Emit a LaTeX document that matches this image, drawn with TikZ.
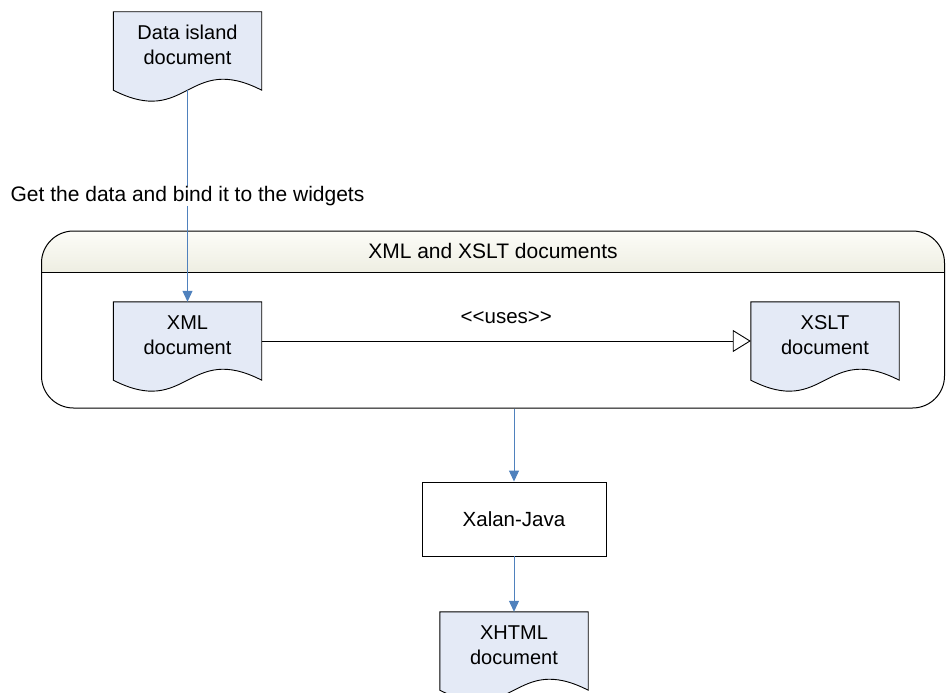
\documentclass[tikz,border=0pt]{standalone}
\usepackage{fontspec}
\setmainfont{Liberation Sans}
\usetikzlibrary{arrows.meta,calc,backgrounds}

\definecolor{docfill}{RGB}{228,234,246}
\definecolor{flowblue}{RGB}{79,129,189}
\definecolor{hdrtop}{RGB}{252,252,248}
\definecolor{hdrbottom}{RGB}{238,238,226}

\tikzset{
  every node/.style={font=\fontsize{20.5}{24}\selectfont},
  bigtext/.style={font=\fontsize{21}{25}\selectfont},
  docnode/.style={minimum width=148pt, minimum height=78pt, inner sep=0pt},
  doctext/.style={align=center, yshift=6pt, inner sep=0pt, font=\fontsize{20}{24.5}\selectfont},
  docshape/.style={fill=docfill, draw=black, line width=0.9pt},
  procbox/.style={draw=black, line width=0.9pt, minimum width=184pt, minimum height=74pt, inner sep=0pt},
  groupbox/.style={draw=black, line width=1pt, rounded corners=32pt, minimum width=903pt, minimum height=177pt, inner sep=0pt},
  flow/.style={draw=flowblue, line width=1pt, -{Triangle[length=11pt,width=10pt]}},
  uses/.style={draw=black, line width=0.9pt, -{Triangle[open,length=18pt,width=22pt,fill=white]}},
  edgelabel/.style={bigtext, fill=white, inner sep=0pt}
}

% document symbol: flat top, straight sides, wavy bottom
\newcommand\docoutline[1]{%
  \filldraw[docshape] (#1.north west) -- (#1.north east) -- (#1.south east)
    .. controls ($(#1.south)+(0,-38)$) and ($(#1.south)+(0,38)$) .. (#1.south west) -- cycle;}

\begin{document}
\begin{tikzpicture}[x=1pt,y=-1pt]
\useasboundingbox (0,0) rectangle (946,693);

% nodes
\node[docnode, label={[doctext]center:Data island\\document}] (island) at (187.5,51) {};
\node[groupbox] (group) at (493,319.5) {};
\node[docnode, label={[doctext]center:XML\\document}] (xml) at (187.5,341) {};
\node[docnode, label={[doctext]center:XSLT\\document}] (xslt) at (825,341) {};
\node[procbox] (xalan) at (514,519) {Xalan-Java};
\node[docnode, label={[doctext]center:XHTML\\document}] (xhtml) at (514,651) {};

% background: container header band, then the document outlines
\begin{scope}[on background layer]
  \begin{scope}
    \clip[rounded corners=32pt] (group.south west) rectangle (group.north east);
    \shade[top color=hdrtop, bottom color=hdrbottom] (group.north west) rectangle ([yshift=-42pt]group.north east);
  \end{scope}
  \docoutline{island}
  \docoutline{xml}
  \docoutline{xslt}
  \docoutline{xhtml}
\end{scope}
\draw[line width=1pt] ([yshift=-42pt]group.north west) -- ([yshift=-42pt]group.north east);
\node[bigtext] (grouptitle) at ([yshift=-20.5pt]group.north) {XML and XSLT documents};

% connectors
\draw[flow] (island.south) -- node[edgelabel, pos=0.5] {Get the data and bind it to the widgets} (xml.north);
\draw[uses] (xml.east) -- node[pos=0.5, yshift=23pt] {<\kern0pt<uses>\kern0pt>} (xslt.west);
\draw[flow] (xalan.north |- group.south) -- (xalan.north);
\draw[flow] (xalan.south) -- (xhtml.north);
\end{tikzpicture}
\end{document}
